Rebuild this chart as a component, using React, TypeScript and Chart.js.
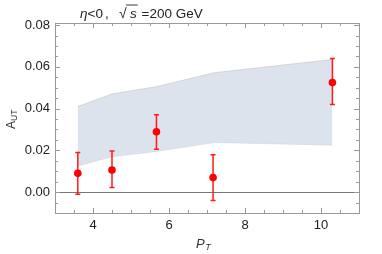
import React, { useEffect, useRef } from "react";
import { Chart, registerables } from "chart.js";
Chart.register(...registerables);

const pt = [3.6, 4.5, 5.67, 7.16, 10.3];
const aut = [0.009, 0.0106, 0.0289, 0.007, 0.0525];
const errHi = [0.019, 0.0197, 0.0371, 0.0179, 0.064];
const errLo = [-0.001, 0.0022, 0.0205, -0.004, 0.042];

const bandX = [3.6, 4.5, 5.67, 7.2, 10.3];
const bandUpper = [0.041, 0.047, 0.0505, 0.0572, 0.0635];
const bandLower = [0.0125, 0.017, 0.0195, 0.0238, 0.0225];

const xTicks = [4, 6, 8, 10];
const yTicks = [0, 0.02, 0.04, 0.06, 0.08];

const FONT = "'Liberation Sans', Arial, sans-serif";

const framePlugin = {
  id: "frame",
  beforeDatasetsDraw(chart: any) {
    const { ctx, chartArea: a, scales } = chart;
    const y = scales.y;
    ctx.save();
    ctx.strokeStyle = "#777";
    ctx.lineWidth = 1;
    const y0 = Math.round(y.getPixelForValue(0)) + 0.5;
    ctx.beginPath();
    ctx.moveTo(a.left, y0);
    ctx.lineTo(a.right, y0);
    ctx.stroke();
    ctx.restore();
  },
  afterDraw(chart: any) {
    const { ctx, chartArea: a, scales } = chart;
    const x = scales.x, y = scales.y;
    ctx.save();
    ctx.strokeStyle = "#999";
    ctx.lineWidth = 1;
    ctx.strokeRect(Math.round(a.left) + 0.5, Math.round(a.top) + 0.5, Math.round(a.right - a.left), Math.round(a.bottom - a.top));
    ctx.beginPath();
    for (let v = 3; v <= 11.001; v += 0.5) {
      const px = Math.round(x.getPixelForValue(v)) + 0.5;
      const major = Math.abs(v - Math.round(v / 2) * 2) < 1e-6;
      const len = major ? 5 : 3;
      ctx.moveTo(px, a.bottom);
      ctx.lineTo(px, a.bottom - len);
      ctx.moveTo(px, a.top);
      ctx.lineTo(px, a.top + len);
    }
    for (let i = -2; i <= 16; i++) {
      const v = i * 0.005;
      const px = Math.round(y.getPixelForValue(v)) + 0.5;
      if (px < a.top - 0.1 || px > a.bottom + 0.1) continue;
      const major = i % 4 === 0;
      const len = major ? 5 : 3;
      ctx.moveTo(a.left, px);
      ctx.lineTo(a.left + len, px);
      ctx.moveTo(a.right, px);
      ctx.lineTo(a.right - len, px);
    }
    ctx.stroke();

    // error bars
    ctx.strokeStyle = "#ff1a1a";
    ctx.lineWidth = 1.5;
    ctx.beginPath();
    for (let i = 0; i < pt.length; i++) {
      const px = x.getPixelForValue(pt[i]);
      const yh = y.getPixelForValue(errHi[i]);
      const yl = y.getPixelForValue(errLo[i]);
      ctx.moveTo(px, yh);
      ctx.lineTo(px, yl);
      ctx.moveTo(px - 2.5, yh);
      ctx.lineTo(px + 2.5, yh);
      ctx.moveTo(px - 2.5, yl);
      ctx.lineTo(px + 2.5, yl);
    }
    ctx.stroke();
    ctx.fillStyle = "#ff0000";
    for (let i = 0; i < pt.length; i++) {
      ctx.beginPath();
      ctx.arc(x.getPixelForValue(pt[i]), y.getPixelForValue(aut[i]), 3.8, 0, Math.PI * 2);
      ctx.fill();
    }

    // title
    ctx.fillStyle = "#222";
    ctx.textBaseline = "alphabetic";
    ctx.textAlign = "left";
    const ty = 17.5;
    ctx.font = `italic 13.5px ${FONT}`;
    ctx.fillText("η", 80, ty);
    const tx = 80 + ctx.measureText("η").width;
    ctx.font = `13.5px ${FONT}`;
    ctx.fillText("<0", tx, ty);
    ctx.fillText(",", 105, ty);
    ctx.font = `14px ${FONT}`;
    ctx.fillText("√", 119, ty);
    const sx = 130;
    ctx.font = `italic 13.5px ${FONT}`;
    ctx.fillText("s", sx, ty);
    const ssw = ctx.measureText("s").width;
    ctx.beginPath();
    ctx.strokeStyle = "#222";
    ctx.lineWidth = 0.9;
    ctx.moveTo(sx - 4, ty - 12.5);
    ctx.lineTo(sx + ssw + 1, ty - 12.5);
    ctx.stroke();
    ctx.font = `13.5px ${FONT}`;
    ctx.fillText("=200 GeV", 141.5, ty);

    // x label
    ctx.fillStyle = "#333";
    ctx.font = `italic 13px ${FONT}`;
    ctx.fillText("P", 196, 248);
    const pw = ctx.measureText("P").width;
    ctx.font = `italic 9px ${FONT}`;
    ctx.fillText("T", 196 + pw + 0.5, 250);

    // y label
    ctx.save();
    ctx.translate(15, 129);
    ctx.rotate(-Math.PI / 2);
    ctx.font = `12px ${FONT}`;
    ctx.fillText("A", 0, 0);
    const aw = ctx.measureText("A").width;
    ctx.font = `8.5px ${FONT}`;
    ctx.fillText("UT", aw, 2);
    ctx.restore();
    ctx.restore();
  },
};

export default function App() {
  const ref = useRef<HTMLCanvasElement>(null);
  useEffect(() => {
    const chart = new Chart(ref.current!, {
      type: "line",
      data: {
        datasets: [
          {
            label: "lower",
            data: bandX.map((v, i) => ({ x: v, y: bandLower[i] })),
            borderColor: "rgba(210,215,225,0.8)",
            borderWidth: 0.8,
            pointRadius: 0,
            fill: false,
          },
          {
            label: "upper",
            data: bandX.map((v, i) => ({ x: v, y: bandUpper[i] })),
            borderColor: "rgba(200,195,190,0.8)",
            borderWidth: 0.8,
            backgroundColor: "#dde3ec",
            pointRadius: 0,
            fill: "-1",
          },
        ],
      },
      options: {
        animation: false,
        responsive: false,
        maintainAspectRatio: false,
        layout: { padding: { top: 23, right: 23, left: 0, bottom: 0 } },
        plugins: { legend: { display: false }, tooltip: { enabled: false }, title: { display: false } },
        scales: {
          x: {
            type: "linear",
            min: 3,
            max: 11,
            grid: { display: false, drawTicks: false },
            border: { display: false },
            afterBuildTicks: (s: any) => { s.ticks = xTicks.map((v) => ({ value: v })); },
            afterFit: (s: any) => { s.height = 41; },
            ticks: { padding: 5, color: "#222", font: { family: FONT, size: 13 }, maxRotation: 0 },
          },
          y: {
            type: "linear",
            min: -0.01,
            max: 0.081,
            grid: { display: false, drawTicks: false },
            border: { display: false },
            afterBuildTicks: (s: any) => { s.ticks = yTicks.map((v) => ({ value: v })); },
            afterFit: (s: any) => { s.width = 55; },
            ticks: { padding: 5, color: "#222", font: { family: FONT, size: 13 }, callback: (v: any) => Number(v).toFixed(2) },
          },
        },
      },
      plugins: [framePlugin],
    });
    return () => chart.destroy();
  }, []);
  return (
    <div style={{ position: "fixed", left: 0, top: 0, width: 382, height: 254, background: "#fff" }}>
      <canvas ref={ref} width={382} height={254} style={{ width: 382, height: 254 }} />
    </div>
  );
}
